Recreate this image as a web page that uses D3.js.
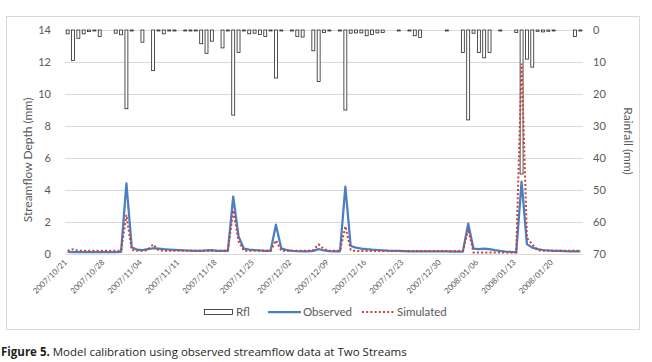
<!DOCTYPE html>
<html>
<head>
<meta charset="utf-8">
<script src="https://cdn.jsdelivr.net/npm/d3@7"></script>
<style>
  body { margin: 0; background: #fff; }
  svg { display: block; font-family: Lato, "Open Sans", sans-serif; }
</style>
</head>
<body>
<div id="chart"></div>
<script>
// daily rainfall (mm), 2007/10/21 .. 2008/01/25
const rainfall = [
  1.2, 9.5, 2.6, 1.2, 0.5, 0.3, 2.0, 0, 0, 1.0,
  1.5, 24.6, 0.3, 0, 3.8, 0, 12.7, 0.3, 1.2, 0.3,
  0.3, 0, 0.3, 0.3, 0.3, 4.3, 7.3, 3.5, 0, 5.6,
  0.3, 26.6, 7.0, 0.3, 1.2, 1.0, 1.4, 2.0, 0.3, 15.0,
  0.3, 0, 0.3, 2.0, 2.2, 0, 6.5, 16.1, 0.8, 0.3,
  0, 0.3, 25.0, 1.0, 0.9, 0.9, 1.8, 1.4, 0.9, 0.8,
  0, 0, 0.3, 0, 0.3, 1.8, 2.3, 0, 0, 0,
  0, 0.3, 0, 0, 7.0, 28.1, 1.0, 7.0, 8.7, 7.0,
  0, 0.3, 0, 0, 0.8, 45.0, 9.1, 11.6, 0.4, 0.6,
  0.4, 0.3, 0, 0, 0, 2.0, 0.3
]

// streamflow depth (mm)
const observed = [
  0.13, 0.12, 0.12, 0.12, 0.12, 0.12, 0.12, 0.12, 0.12, 0.12,
  0.13, 4.42, 0.42, 0.27, 0.24, 0.30, 0.36, 0.33, 0.30, 0.28,
  0.26, 0.24, 0.22, 0.21, 0.20, 0.20, 0.22, 0.24, 0.20, 0.19,
  0.19, 3.58, 1.10, 0.33, 0.28, 0.25, 0.22, 0.20, 0.20, 1.83,
  0.35, 0.24, 0.20, 0.18, 0.17, 0.17, 0.20, 0.30, 0.22, 0.18,
  0.17, 0.17, 4.21, 0.50, 0.40, 0.34, 0.30, 0.27, 0.25, 0.23,
  0.21, 0.20, 0.19, 0.18, 0.17, 0.17, 0.17, 0.17, 0.16, 0.16,
  0.16, 0.16, 0.15, 0.15, 0.15, 1.90, 0.33, 0.30, 0.33, 0.30,
  0.24, 0.19, 0.15, 0.13, 0.12, 4.52, 0.62, 0.40, 0.30, 0.25,
  0.22, 0.20, 0.19, 0.18, 0.17, 0.17, 0.17
]

const simulated = [
  0.20, 0.30, 0.20, 0.20, 0.20, 0.20, 0.20, 0.20, 0.20, 0.20,
  0.20, 2.44, 0.25, 0.20, 0.20, 0.25, 0.60, 0.25, 0.20, 0.20,
  0.20, 0.20, 0.20, 0.20, 0.20, 0.20, 0.20, 0.20, 0.20, 0.20,
  0.20, 2.72, 0.80, 0.20, 0.20, 0.20, 0.20, 0.20, 0.20, 0.85,
  0.20, 0.20, 0.20, 0.20, 0.20, 0.20, 0.25, 0.60, 0.30, 0.20,
  0.20, 0.20, 1.73, 0.25, 0.18, 0.18, 0.18, 0.18, 0.18, 0.18,
  0.18, 0.18, 0.18, 0.18, 0.18, 0.18, 0.18, 0.18, 0.18, 0.18,
  0.18, 0.18, 0.18, 0.18, 0.18, 1.55, 0.10, 0.10, 0.10, 0.10,
  0.10, 0.10, 0.10, 0.10, 0.10, 11.9, 1.00, 0.60, 0.25, 0.20,
  0.20, 0.20, 0.20, 0.20, 0.20, 0.20, 0.20
]

const fmtDay = d3.utcFormat('%Y/%m/%d')
const days = d3.utcDay.range(new Date(Date.UTC(2007, 9, 21)), new Date(Date.UTC(2008, 0, 26))).map(fmtDay)

const tickLabels = [
  '2007/10/21', '2007/10/28', '2007/11/04', '2007/11/11', '2007/11/18', '2007/11/25', '2007/12/02',
  '2007/12/09', '2007/12/16', '2007/12/23', '2007/12/30', '2008/01/06', '2008/01/13', '2008/01/20'
]
const flowTicks = [0, 2, 4, 6, 8, 10, 12, 14]
const rainTicks = [0, 10, 20, 30, 40, 50, 60, 70]

const W = 652, H = 362
const PL = 65, PR = 583, PT = 30, PB = 254
const GREY = '#595959'

const svg = d3.select('#chart').append('svg').attr('width', W).attr('height', H)

// chart frame
svg.append('rect')
  .attr('x', 6.5).attr('y', 16.5).attr('width', 633).attr('height', 313)
  .attr('fill', '#fff').attr('stroke', '#d9d9d9')

const x = d3.scaleBand().domain(days).range([PL, PR]).paddingInner(0.45).paddingOuter(0.225)
const bw = x.bandwidth()
const cx = d => x(d) + bw / 2
const yL = d3.scaleLinear().domain([0, 14]).range([PB, PT])
const yR = d3.scaleLinear().domain([0, 70]).range([PT, PB])

// ── left axis + gridlines ─────────────────────────────
const gL = svg.append('g').attr('transform', `translate(${PL},0)`)
  .call(d3.axisLeft(yL).tickValues(flowTicks).tickSize(-(PR - PL)).tickPadding(14))
gL.select('.domain').remove()
gL.selectAll('line').attr('stroke', '#d9d9d9')
gL.selectAll('text').attr('fill', GREY).style('font-size', '11px').style('font-family', 'Lato')

// ── right axis ────────────────────────────────────────
const gR = svg.append('g').attr('transform', `translate(${PR},0)`)
  .call(d3.axisRight(yR).tickValues(rainTicks).tickSize(0).tickPadding(10))
gR.select('.domain').remove()
gR.selectAll('text').attr('fill', GREY).style('font-size', '11px').style('font-family', 'Lato')

// ── x axis ────────────────────────────────────────────
const gX = svg.append('g').attr('transform', `translate(0,${PB})`)
  .call(d3.axisBottom(x).tickValues(tickLabels).tickSize(0))
gX.select('.domain').remove()
gX.selectAll('text')
  .attr('x', 0).attr('y', 0).attr('dy', '0.35em')
  .attr('text-anchor', 'end')
  .attr('transform', 'translate(-2,7) rotate(-45)')
  .attr('fill', GREY).style('font-size', '8px').style('font-family', 'Lato')

// ── rainfall bars (hanging from the top) ──────────────
svg.append('g').selectAll('rect')
  .data(days.map((d, i) => ({ d, v: rainfall[i] })).filter(r => r.v > 0))
  .join('rect')
  .attr('x', r => x(r.d)).attr('width', bw)
  .attr('y', yR(0)).attr('height', r => yR(r.v) - yR(0))
  .attr('fill', '#fff').attr('stroke', '#262626').attr('stroke-width', 0.8)

// ── streamflow lines ──────────────────────────────────
const line = d3.line().x((v, i) => cx(days[i])).y(v => yL(v))

svg.append('path').datum(observed)
  .attr('d', line)
  .attr('fill', 'none').attr('stroke', '#4a7fc1').attr('stroke-width', 2.25)
  .attr('stroke-linejoin', 'round')

svg.append('path').datum(simulated)
  .attr('d', line)
  .attr('fill', 'none').attr('stroke', '#c9403c').attr('stroke-width', 2)
  .attr('stroke-dasharray', '2 2.2')

// ── axis titles ───────────────────────────────────────
svg.append('text')
  .attr('transform', 'translate(28,160) rotate(-90)')
  .attr('text-anchor', 'middle').attr('dy', '0.35em')
  .attr('fill', GREY).style('font-size', '12px')
  .text('Streamflow Depth (mm)')

svg.append('text')
  .attr('transform', 'translate(628,141) rotate(90)')
  .attr('text-anchor', 'middle').attr('dy', '0.35em')
  .attr('fill', GREY).style('font-size', '12px')
  .text('Rainfall (mm)')

// ── legend ────────────────────────────────────────────
const LY = 312
const legend = svg.append('g').style('font-size', '11.5px')
legend.append('rect').attr('x', 204.5).attr('y', LY - 2.5).attr('width', 28).attr('height', 5)
  .attr('fill', '#fff').attr('stroke', '#262626').attr('stroke-width', 0.8)
legend.append('text').attr('x', 236).attr('y', LY).attr('dy', '0.35em').attr('fill', GREY).text('Rfl')

legend.append('line').attr('x1', 268).attr('x2', 301).attr('y1', LY).attr('y2', LY)
  .attr('stroke', '#4a7fc1').attr('stroke-width', 2.25)
legend.append('text').attr('x', 303).attr('y', LY).attr('dy', '0.35em').attr('fill', GREY).text('Observed')

legend.append('line').attr('x1', 362).attr('x2', 394).attr('y1', LY).attr('y2', LY)
  .attr('stroke', '#c9403c').attr('stroke-width', 2).attr('stroke-dasharray', '2 2.2')
legend.append('text').attr('x', 397).attr('y', LY).attr('dy', '0.35em').attr('fill', GREY).text('Simulated')

// ── caption ───────────────────────────────────────────
const cap = svg.append('text').attr('x', 1).attr('y', 356)
  .attr('fill', '#231f20').style('font-size', '11.5px').style('font-family', '"Open Sans"')
cap.append('tspan').style('font-weight', 'bold').text('Figure 5.')
cap.append('tspan').text(' Model calibration using observed streamflow data at Two Streams')
</script>
</body>
</html>
